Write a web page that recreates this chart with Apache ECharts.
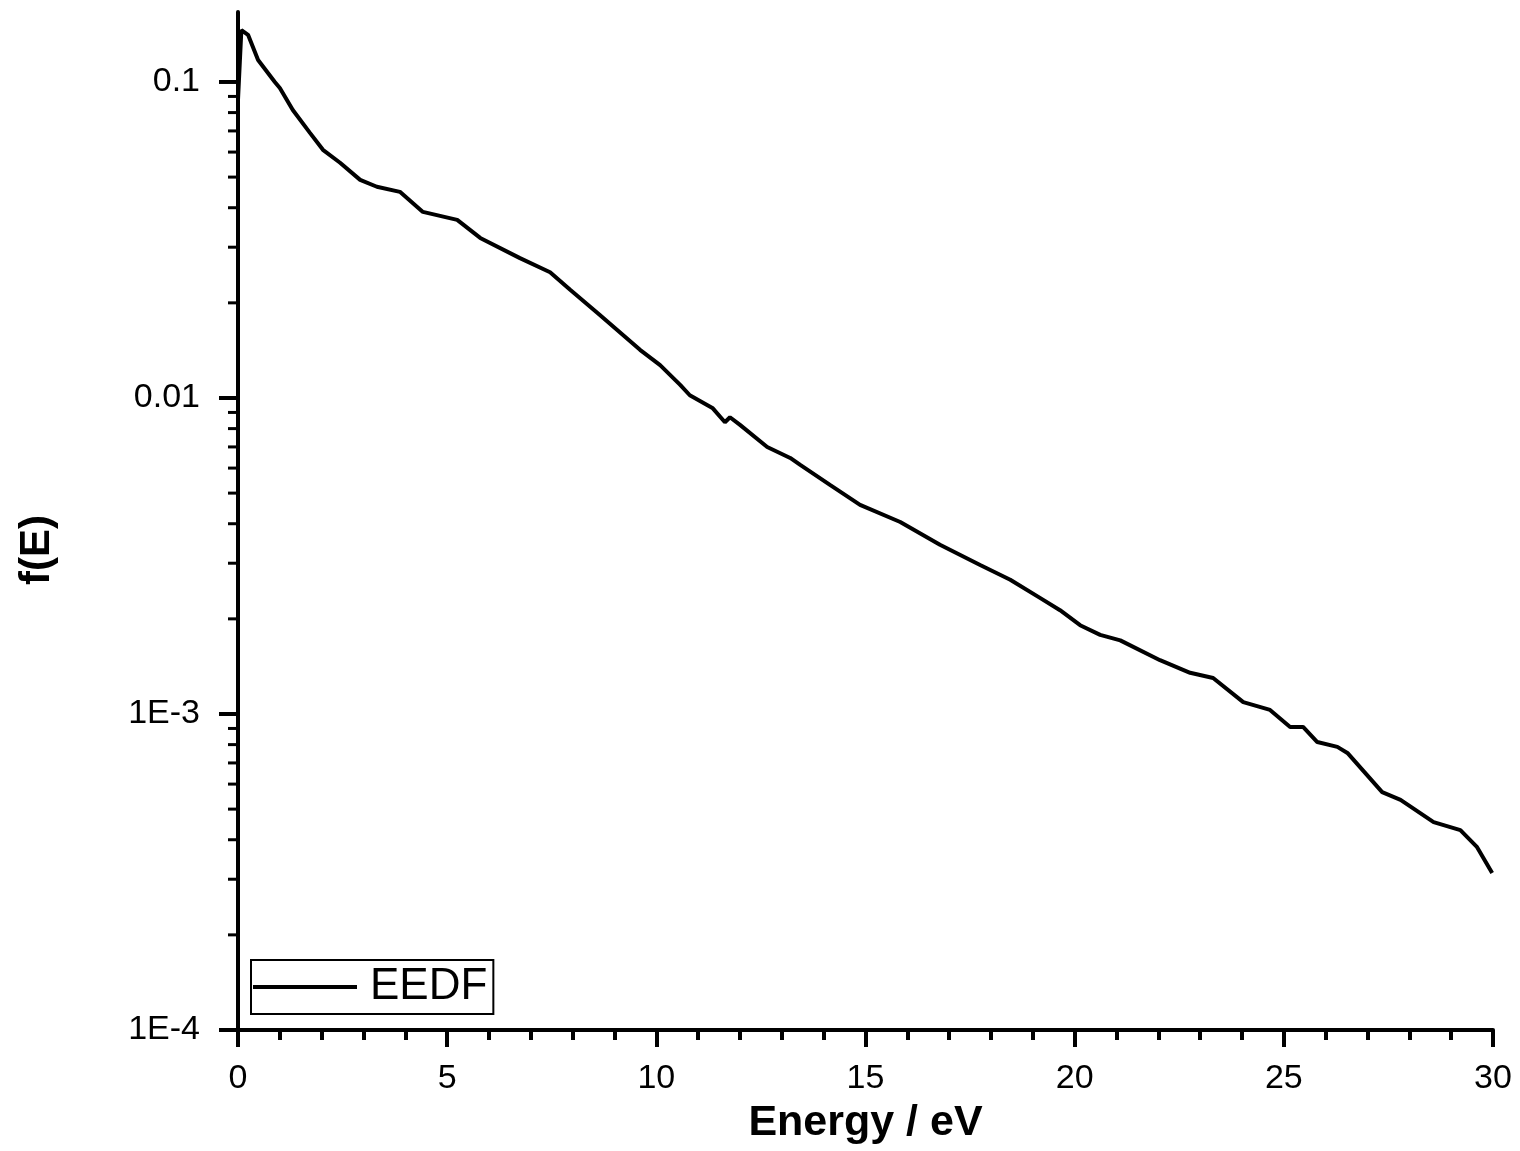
<!DOCTYPE html>
<html>
<head>
<meta charset="utf-8">
<script src="https://cdn.jsdelivr.net/npm/echarts@6/dist/echarts.min.js"></script>
<style>
html,body{margin:0;padding:0;background:#fff;}
#chart{width:1520px;height:1151px;}
</style>
</head>
<body>
<div id="chart"></div>
<script>
// ---- data ----
var energy = [0, 0.08, 0.24, 0.48, 0.88, 1.0, 1.31, 1.72, 2.03, 2.44, 2.92, 3.32, 3.87, 4.42, 5.24, 5.79,
  6.74, 7.46, 7.94, 8.65, 9.61, 10.09, 10.57, 10.8, 11.34, 11.64, 11.76, 12.0, 12.65, 13.2, 13.44,
  14.15, 14.87, 15.83, 16.78, 17.74, 18.46, 19.17, 19.65, 20.13, 20.61, 21.09, 22.04, 22.76, 23.31,
  24.03, 24.67, 25.15, 25.46, 25.80, 26.28, 26.52, 27.35, 27.79, 28.58, 29.22, 29.62, 29.98];
var eedf = [0.0877, 0.146, 0.141, 0.1174, 0.100, 0.0957, 0.0815, 0.0690, 0.0610, 0.0555, 0.0490, 0.0466,
  0.0449, 0.0388, 0.0366, 0.0321, 0.0277, 0.0250, 0.0220, 0.0183, 0.0142, 0.0127, 0.0110, 0.0102,
  0.00930, 0.00838, 0.00869, 0.00822, 0.00700, 0.00646, 0.00614, 0.00531, 0.00459, 0.00405, 0.00343,
  0.00296, 0.00266, 0.00233, 0.00213, 0.00191, 0.00178, 0.00171, 0.00148, 0.00135, 0.00130, 0.00109,
  0.00103, 0.000910, 0.000910, 0.000815, 0.000787, 0.000753, 0.000566, 0.000535, 0.000455, 0.000429,
  0.000379, 0.000314];
var seriesName = 'EEDF';
var yTickValues = [1e-4, 1e-3, 1e-2, 1e-1];
var yTickLabels = ['1E-4', '1E-3', '0.01', '0.1'];
var yMin = 1e-4, yMax = 0.1665;
var xMin = 0, xMax = 30, xInterval = 5;

// minor tick values 2..9 x decade
var yMinorValues = [];
yTickValues.forEach(function (d) {
  for (var m = 2; m <= 9; m++) { var v = d * m; if (v <= yMax) yMinorValues.push(v); }
});

var lineData = energy.map(function (e, i) { return [e, eedf[i]]; });
var tickData = [];
yTickValues.forEach(function (v) { tickData.push([0, v, 1]); });
yMinorValues.forEach(function (v) { tickData.push([0, v, 0]); });

var FONT = 'Liberation Sans, Arial, sans-serif';
var chart = echarts.init(document.getElementById('chart'), null, {renderer: 'canvas'});
chart.setOption({
  animation: false,
  backgroundColor: '#fff',
  grid: {left: 238, right: 27, top: 12, bottom: 121, containLabel: false},
  legend: {
    data: [{name: seriesName, icon: 'rect'}],
    left: 251, top: 960,
    orient: 'horizontal',
    backgroundColor: '#fff',
    borderColor: '#000', borderWidth: 2, borderRadius: 0,
    padding: [5, 6, 5, 2],
    itemWidth: 104, itemHeight: 4,
    itemStyle: {color: '#000', borderWidth: 0},
    textStyle: {fontSize: 44, color: '#000', fontFamily: FONT, padding: [0, 0, 0, 8]}
  },
  xAxis: {
    type: 'value', min: xMin, max: xMax, interval: xInterval,
    axisLine: {lineStyle: {color: '#000', width: 4}},
    axisTick: {show: true, inside: false, length: 17, lineStyle: {color: '#000', width: 4}},
    minorTick: {show: true, splitNumber: 5, length: 10, lineStyle: {color: '#000', width: 4}},
    splitLine: {show: false},
    axisLabel: {fontSize: 34, color: '#000', fontFamily: FONT, margin: 32},
    name: 'Energy / eV', nameLocation: 'middle', nameGap: 72,
    nameTextStyle: {fontSize: 43, fontWeight: 'bold', color: '#000', fontFamily: FONT}
  },
  yAxis: {
    type: 'log', logBase: 10, min: yMin, max: yMax,
    axisLine: {show: true, lineStyle: {color: '#000', width: 4}},
    axisTick: {show: false},
    splitLine: {show: false},
    axisLabel: {
      fontSize: 34, color: '#000', fontFamily: FONT, margin: 38,
      formatter: function (v) {
        for (var i = 0; i < yTickValues.length; i++) {
          if (Math.abs(Math.log10(v) - Math.log10(yTickValues[i])) < 1e-6) return yTickLabels[i];
        }
        return '';
      }
    },
    name: 'f(E)', nameLocation: 'middle', nameGap: 180, nameRotate: 90,
    nameTextStyle: {fontSize: 42, fontWeight: 'bold', color: '#000', fontFamily: FONT, padding: [0, 58, 0, 0]}
  },
  series: [
    {
      name: seriesName, type: 'line', data: lineData,
      symbol: 'none', showSymbol: false, smooth: false,
      lineStyle: {color: '#000', width: 4},
      itemStyle: {color: '#000'}, z: 3
    },
    {
      name: 'yticks', type: 'custom', data: tickData, clip: false, silent: true, z: 4,
      renderItem: function (params, api) {
        var p = api.coord([api.value(0), api.value(1)]);
        var major = api.value(2) === 1;
        var len = major ? 17 : 8;
        return {
          type: 'line',
          shape: {x1: p[0] - len - 2, y1: p[1], x2: p[0], y2: p[1]},
          style: {stroke: '#000', lineWidth: major ? 4 : 3}
        };
      }
    }
  ]
});
</script>
</body>
</html>
